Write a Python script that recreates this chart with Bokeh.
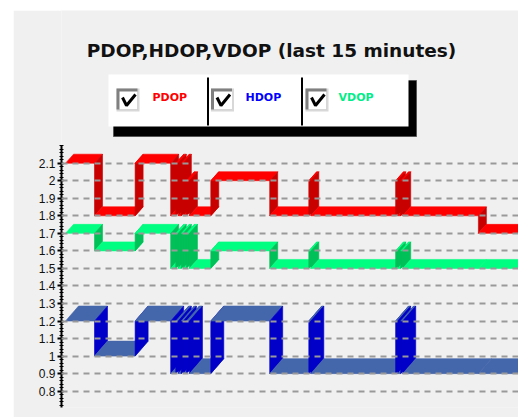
from bokeh.plotting import figure
from bokeh.models import Range1d, FixedTicker, ColumnDataSource
from bokeh.embed import file_html
from bokeh.resources import INLINE
from bokeh.core.properties import value

# ---------------- data ----------------
title_text = "PDOP,HDOP,VDOP (last 15 minutes)"
series_names = ["PDOP", "HDOP", "VDOP"]
# change points (seconds into the 15-minute window)
times = [0, 57, 137, 207, 217, 222, 228, 232, 238, 244, 286, 402, 479, 483, 650, 654, 660, 664, 813]
t_end = 900
pdop = [2.1, 1.8, 2.1, 1.8, 2.1, 1.8, 2.1, 1.8, 2.0, 1.8, 2.0, 1.8, 2.0, 1.8, 2.0, 1.8, 2.0, 1.8, 1.7]
vdop = [1.7, 1.6, 1.7, 1.5, 1.7, 1.5, 1.7, 1.5, 1.7, 1.5, 1.6, 1.5, 1.6, 1.5, 1.6, 1.5, 1.6, 1.5, 1.5]
hdop = [1.2, 1.0, 1.2, 0.9, 1.2, 0.9, 1.2, 0.9, 1.2, 0.9, 1.2, 0.9, 1.2, 0.9, 1.2, 0.9, 1.2, 0.9, 0.9]
y_ticks = [0.8, 0.9, 1.0, 1.1, 1.2, 1.3, 1.4, 1.5, 1.6, 1.7, 1.8, 1.9, 2.0, 2.1]
y_tick_labels = ["0.8", "0.9", "1", "1.1", "1.2", "1.3", "1.4", "1.5", "1.6", "1.7", "1.8", "1.9", "2", "2.1"]

# ---------------- style ----------------
BG = "#f0f0f0"
FONT = "DejaVu Sans"
X0, X1 = -8, 892
AXIS_TOP = 2.201
Y0 = 0.707
FRAME_W = 457
FRAME_TOP_PX, FRAME_BOTTOM_PX, AXIS_TOP_PX = 10, 407, 145
px_x = FRAME_W / (X1 - X0)
px_y = (FRAME_BOTTOM_PX - AXIS_TOP_PX) / (AXIS_TOP - Y0)
Y1 = Y0 + (FRAME_BOTTOM_PX - FRAME_TOP_PX) / px_y

styles = {
    "PDOP": dict(top="#ff0000", side="#c80000", dx=8, dy=9, label="#ff0000"),
    "HDOP": dict(top="#4466aa", side="#0000c8", dx=13, dy=15, label="#0000ff"),
    "VDOP": dict(top="#00ff80", side="#00c058", dx=8, dy=9, label="#00ee88"),
}


def ribbon(ts, vs, st):
    dx = st["dx"] / px_x
    dy = st["dy"] / px_y
    edges = list(ts) + [t_end]
    xs, ys, cs = [], [], []
    for i, v in enumerate(vs):
        a, b = edges[i], edges[i + 1]
        xs.append([a, b, b + dx, a + dx])
        ys.append([v, v, v + dy, v + dy])
        cs.append(st["top"])
        if i + 1 < len(vs) and vs[i + 1] != v:
            w = vs[i + 1]
            xs.append([b, b, b + dx, b + dx])
            ys.append([v, w, w + dy, v + dy])
            cs.append(st["side"])
    return xs, ys, cs


p = figure(width=505, height=407, x_range=Range1d(X0, X1), y_range=Range1d(Y0, Y1),
           toolbar_location=None, output_backend="svg",
           min_border_left=48, min_border_right=0, min_border_top=0, min_border_bottom=10,
           x_axis_location=None, margin=(10, 0, 0, 13),
           background_fill_color=BG, border_fill_color=BG, outline_line_color=None)
# pixel-like ranges for the header decorations
p.extra_x_ranges = {"hx": Range1d(61, 518)}
p.extra_y_ranges = {"hy": Range1d(FRAME_BOTTOM_PX, FRAME_TOP_PX)}
H = dict(x_range_name="hx", y_range_name="hy")

# ---------------- series ribbons ----------------
all_x, all_y, all_c = [], [], []
for name, vals in [("PDOP", pdop), ("VDOP", vdop), ("HDOP", hdop)]:
    xs, ys, cs = ribbon(times, vals, styles[name])
    all_x += xs
    all_y += ys
    all_c += cs
src = ColumnDataSource(dict(xs=all_x, ys=all_y, c=all_c))
p.patches(xs="xs", ys="ys", fill_color="c", line_color="c", line_width=0.6, source=src)

# ---------------- header: title + legend ----------------
p.text(x=[271], y=[50], text=[title_text], text_align="center", text_baseline="alphabetic",
       text_font=value(FONT), text_font_style="bold", text_font_size="18.5px", text_color="#111111", **H)

p.quad(left=[113], right=[416], top=[80], bottom=[136], fill_color="#000000", line_color="#555555",
       line_width=1, **H)
p.quad(left=[108], right=[408], top=[74], bottom=[126], fill_color="#ffffff", line_color=None, **H)
p.segment(x0=[207.5, 301.5], y0=[77, 77], x1=[207.5, 301.5], y1=[125, 125], line_color="#000000",
          line_width=2, **H)

box_x = [116, 210.5, 305]
p.quad(left=box_x, right=[b + 23 for b in box_x], top=[88] * 3, bottom=[111] * 3,
       fill_color="#d8d8d8", line_color=None, **H)
p.quad(left=box_x, right=[b + 21 for b in box_x], top=[88] * 3, bottom=[109] * 3,
       fill_color="#808080", line_color=None, **H)
p.quad(left=[b + 3 for b in box_x], right=[b + 21 for b in box_x], top=[91] * 3, bottom=[109] * 3,
       fill_color="#ffffff", line_color=None, **H)
p.multi_line(xs=[[b + 6, b + 10, b + 19] for b in box_x], ys=[[97, 105, 94]] * 3,
             line_color="#000000", line_width=3, **H)

p.text(x=[152, 245, 338], y=[97, 97, 97], text=series_names,
       text_color=[styles[n]["label"] for n in series_names],
       text_align="left", text_baseline="alphabetic",
       text_font=value(FONT), text_font_style="bold", text_font_size="11px", **H)

# ---------------- axis + grid ----------------
minor = [round(0.72 + 0.02 * i, 2) for i in range(75)]
ax = p.yaxis[0]
ax.ticker = FixedTicker(ticks=y_ticks, minor_ticks=minor)
ax.bounds = (Y0, AXIS_TOP)
ax.major_label_overrides = {t: l for t, l in zip(y_ticks, y_tick_labels)}
ax.axis_line_color = "#000000"
ax.axis_line_width = 2
ax.major_tick_line_color = "#000000"
ax.major_tick_line_width = 2
ax.major_tick_out = 4
ax.major_tick_in = 2
ax.minor_tick_line_color = "#000000"
ax.minor_tick_out = 2
ax.minor_tick_in = 2
ax.major_label_standoff = 2
ax.major_label_text_font = "Liberation Sans"
ax.major_label_text_font_size = "12px"
ax.major_label_text_color = "#111111"

p.xgrid.visible = False
p.ygrid.ticker = FixedTicker(ticks=y_ticks)
p.ygrid.grid_line_color = "#999999"
p.ygrid.grid_line_dash = "6 5"
p.ygrid.grid_line_width = 2
p.ygrid.level = "overlay"

open("out.html", "w").write(file_html(p, INLINE))
